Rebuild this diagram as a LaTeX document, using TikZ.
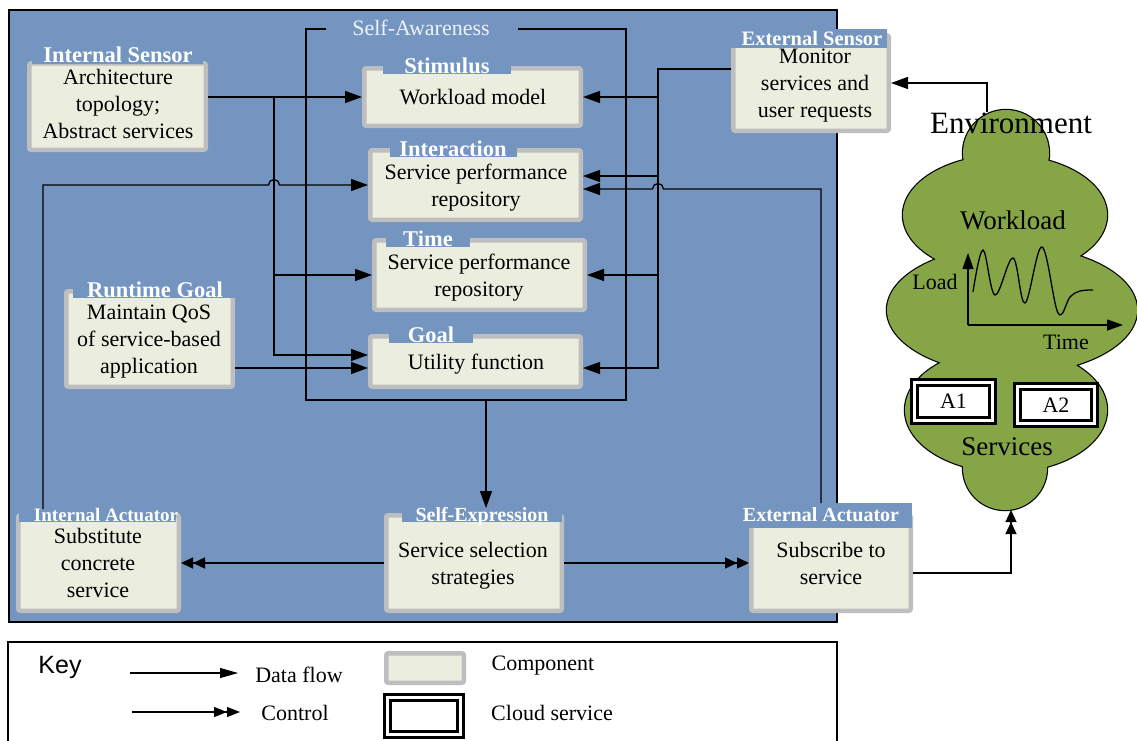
\documentclass[tikz,border=0pt]{standalone}
\usepackage{fontspec}
\setmainfont{Liberation Serif}
\newfontfamily\keyfont{Liberation Sans}
\usetikzlibrary{arrows.meta,calc}

\definecolor{panelblue}{RGB}{115,149,192}
\definecolor{compfill}{RGB}{235,238,222}
\definecolor{compedge}{RGB}{190,190,190}
\definecolor{cloudgreen}{RGB}{134,165,70}
\definecolor{palefont}{RGB}{238,242,250}

\newcommand\txtbody{\fontsize{22}{27}\selectfont}
\newcommand\lblbig{\bfseries\fontsize{22.5}{24}\selectfont}
\newcommand\lblsmall{\bfseries\fontsize{20}{22}\selectfont}

\tikzset{
  comp/.style={draw=compedge, line width=4.5pt, fill=compfill, rounded corners=2pt, inner sep=0pt},
  comptext/.style={align=center, font=\txtbody, inner sep=0pt},
  tabfill/.style={fill=panelblue},
  tablbl/.style={text=white, font=\lblbig, inner sep=0pt, anchor=base},
  wire/.style={line width=1.3pt},
  flow/.style={line width=1.3pt, -{Triangle[length=17pt,width=12pt]}},
  ctrl/.style={line width=1.3pt,
    -{Triangle[length=12pt,width=11pt,sep=0pt]Triangle[length=12pt,width=11pt]}},
  cloudsvc/.style={draw=black, line width=3pt, double=white, double distance=3pt,
    fill=white, font=\txtbody, inner sep=0pt},
  plain/.style={font=\txtbody, inner sep=0pt},
}

\begin{document}
\begin{tikzpicture}[x=1pt,y=-1pt]
\useasboundingbox (0,0) rectangle (1137,740);

% ---------- main panel ----------
\draw[fill=panelblue, line width=2.5pt] (9,10) rectangle (837,622);

% ---------- key ----------
\draw[line width=2pt] (8,642) rectangle (837,770);
\node[font=\keyfont\fontsize{25}{28}\selectfont, inner sep=0pt] (keyT) at (60,667) {Key};
\coordinate (kf1) at (130,673);
\coordinate (kf2) at (238,673);
\draw[line width=1.1pt, -{Triangle[length=18pt,width=10pt]}] (kf1) -- (kf2);
\coordinate (kc1) at (132,712);
\coordinate (kc2) at (240,712);
\draw[line width=1.1pt, -{Triangle[length=13pt,width=10pt,sep=0pt]Triangle[length=13pt,width=10pt]}] (kc1) -- (kc2);
\node[plain] (kDF) at (299,675) {Data flow};
\node[plain] (kCtl) at (295,713) {Control};
\node[comp, minimum width=77.5pt, minimum height=29.5pt] (kComp) at (425,668) {};
\node[cloudsvc, minimum width=73pt, minimum height=37pt] (kCloud) at (424,716) {};
\node[plain] (kCompT) at (543,666) {Component};
\node[plain] (kCloudT) at (552,713) {Cloud service};

% ---------- environment cloud ----------
\path[draw=black, line width=2.4pt]
  (1006,153) circle[radius=43pt]
  (1005,215) ellipse[x radius=102pt, y radius=60pt]
  (1012,310) ellipse[x radius=125pt, y radius=64pt]
  (1006,410) ellipse[x radius=101pt, y radius=62pt]
  (1005,468) circle[radius=42pt];
\path[fill=cloudgreen]
  (1006,153) circle[radius=43pt]
  (1005,215) ellipse[x radius=102pt, y radius=60pt]
  (1012,310) ellipse[x radius=125pt, y radius=64pt]
  (1006,410) ellipse[x radius=101pt, y radius=62pt]
  (1005,468) circle[radius=42pt];
\coordinate (cloudTop) at (987,112);
\coordinate (cloudBot) at (1011,510);

\node[font=\fontsize{31}{34}\selectfont, inner sep=0pt] (envT) at (1011,123) {Environment};
\node[font=\fontsize{27}{30}\selectfont, inner sep=0pt] (wlT) at (1013,220) {Workload};
\node[font=\fontsize{27}{30}\selectfont, inner sep=0pt] (svT) at (1007,447) {Services};
\node[plain] (loadT) at (935,282) {Load};
\node[plain] (timeT) at (1066,342) {Time};

% workload chart
\coordinate (orig) at (968,325);
\coordinate (yTip) at (968,253);
\coordinate (xTip) at (1123,325);
\draw[line width=1.3pt, -{Triangle[length=16pt,width=11pt]}] (orig) -- (yTip);
\draw[line width=1.3pt, -{Triangle[length=16pt,width=11pt]}] (orig) -- (xTip);
\draw[line width=1.3pt] plot[smooth, tension=0.6] coordinates
  {(973,292) (983,250) (995,295) (1013,258) (1025,303) (1042,247) (1058,313)
   (1070,297) (1080,291) (1093,290)};

% cloud services
\node[cloudsvc, minimum width=78pt, minimum height=38pt] (a1) at (953.5,401.5) {A1};
\node[cloudsvc, minimum width=77pt, minimum height=37pt] (a2) at (1056,405) {A2};

% ---------- self-awareness frame ----------
\node[minimum width=320pt, minimum height=371pt, inner sep=0pt, outer sep=0pt] (sa) at (466,214.5) {};
\draw[line width=1.6pt] ([xshift=20pt]sa.north west) -- (sa.north west) -- (sa.south west)
  -- (sa.south east) -- (sa.north east) -- ([xshift=-108pt]sa.north east);
\node[text=palefont, font=\txtbody, inner sep=0pt, anchor=base] (saT) at (421,35) {Self-Awareness};

% ---------- components ----------
\node[comp, minimum width=176.5pt, minimum height=86.5pt] (isens) at (117.5,106.5) {};
\node[comp, minimum width=216.5pt, minimum height=57.5pt] (stim) at (472.5,97) {};
\node[comp, minimum width=210.5pt, minimum height=69.5pt] (inter) at (475.5,185) {};
\node[comp, minimum width=210.5pt, minimum height=69.5pt] (time) at (479.5,275) {};
\node[comp, minimum width=210.5pt, minimum height=50.5pt] (goal) at (475.5,361.5) {};
\node[comp, minimum width=166.5pt, minimum height=95.5pt] (rgoal) at (149.5,339) {};
\node[comp, minimum width=155.5pt, minimum height=95.5pt] (esens) at (811,83) {};
\node[comp, minimum width=160.5pt, minimum height=95.5pt] (iact) at (98.5,563) {};
\node[comp, minimum width=175.5pt, minimum height=95.5pt] (sexp) at (474,563) {};
\node[comp, minimum width=159.5pt, minimum height=95.5pt] (eact) at (831,563) {};

\node[comptext] (isensT) at (118,104) {Architecture\\topology;\\Abstract services};
\node[comptext] (stimT) at (473,97) {Workload model};
\node[comptext] (interT) at (476,188) {Service performance\\repository};
\node[comptext] (timeT2) at (479,278) {Service performance\\repository};
\node[comptext] (goalT) at (476,364) {Utility function};
\node[comptext] (rgoalT) at (149,342) {Maintain QoS\\of service-based\\application};
\node[comptext] (esensT) at (815,86) {Monitor\\services and\\user requests};
\node[comptext] (iactT) at (98,563) {Substitute\\concrete\\service};
\node[comptext] (sexpT) at (473,566) {Service selection\\strategies};
\node[comptext] (eactT) at (831,563.5) {Subscribe to\\service};

% title tabs
\fill[tabfill] (32,58) rectangle (203,64);
\fill[tabfill] (383,60) rectangle (511,74);
\fill[tabfill] (390,145) rectangle (517,157);
\fill[tabfill] (386,234) rectangle (470,247);
\fill[tabfill] (389,330) rectangle (473,343);
\fill[tabfill] (73,285) rectangle (237,298);
\fill[tabfill] (731,29) rectangle (887,48);
\fill[tabfill] (19,509) rectangle (176,522);
\fill[tabfill] (402,508) rectangle (562,522);
\fill[tabfill] (741,503) rectangle (912,528);

\node[tablbl] (isensL) at (118,62) {Internal Sensor};
\node[tablbl] (stimL) at (447,73) {Stimulus};
\node[tablbl] (interL) at (453,156) {Interaction};
\node[tablbl] (timeL) at (428,246) {Time};
\node[tablbl] (goalL) at (431,342) {Goal};
\node[tablbl] (rgoalL) at (155,297) {Runtime Goal};
\node[tablbl, font=\bfseries\fontsize{20.5}{22}\selectfont] (esensL) at (812,45) {External Sensor};
\node[tablbl, font=\bfseries\fontsize{19}{22}\selectfont] (iactL) at (106,521) {Internal Actuator};
\node[tablbl, font=\lblsmall] (sexpL) at (482,521) {Self-Expression};
\node[tablbl, font=\lblsmall] (eactL) at (821,521) {External Actuator};

% ---------- connectors ----------
\coordinate (busL) at (274,0);
\coordinate (busR) at (658,0);
\coordinate (goalL1) at ([yshift=6.5pt]goal.west);
\coordinate (goalR) at ([yshift=-6.5pt]goal.east);
\coordinate (interR1) at ([yshift=9pt]inter.east);
\coordinate (interR2) at ([yshift=-4pt]inter.east);
\coordinate (esensOut) at ([yshift=14pt]esens.west);
\coordinate (iactUp) at ([xshift=27pt,yshift=4pt]iact.north west);
\coordinate (eactUp) at ([xshift=72pt,yshift=10pt]eact.north west);
\coordinate (sexpIn) at ([xshift=12pt,yshift=5pt]sexp.north);

% internal sensor feeds
\draw[flow] (isens.east |- stim.west) -- (stim.west);
\draw[flow] (busL |- stim.west) |- (goalL1);
\draw[flow] (busL |- time.west) -- (time.west);
% runtime goal
\draw[flow] (rgoal.east |- goalR) -- (goal.west |- goalR);
% internal actuator back to interaction, jumping the bus
\draw[flow] (iactUp) |- ($(busL |- inter.west)+(-5.5,0)$)
  arc[start angle=180, end angle=0, radius=5.5pt] -- (inter.west);
% external sensor bus
\draw[flow] (esensOut) -| (busR |- goalR) -- (goalR);
\draw[flow] (busR |- stim.east) -- (stim.east);
\draw[flow] (busR |- interR1) -- (interR1);
\draw[flow] (busR |- time.east) -- (time.east);
% external actuator back to interaction, jumping the bus
\draw[flow] (eactUp) |- ($(busR |- interR2)+(5.5,0)$)
  arc[start angle=0, end angle=180, radius=5.5pt] -- (interR2);
% self-awareness to self-expression
\draw[flow] (sa.south -| sexpIn) -- (sexpIn);
% control
\draw[ctrl] (sexp.west) -- (iact.east |- sexp.west);
\draw[ctrl] (sexp.east) -- (eact.west |- sexp.east);
\draw[ctrl] ([yshift=-10pt]eact.east) -| (cloudBot);
% environment monitoring
\draw[flow] (cloudTop) |- (esens.east);

\end{tikzpicture}
\end{document}
